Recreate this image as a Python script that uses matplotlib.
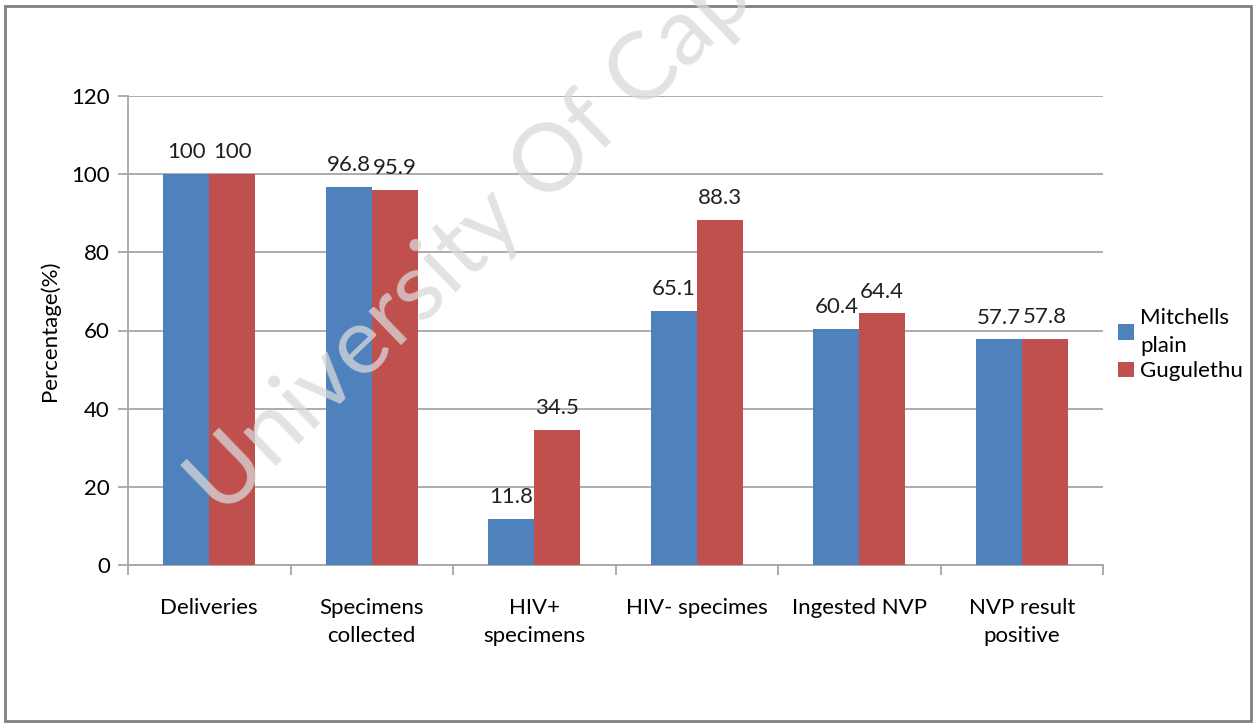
import numpy as np
import matplotlib.pyplot as plt
from matplotlib.patches import Rectangle

plt.rcParams['font.family'] = ['Lato', 'DejaVu Sans']

# Data
categories = ['Deliveries', 'Specimens\ncollected', 'HIV+\nspecimens',
              'HIV- specimes', 'Ingested NVP', 'NVP result\npositive']
mitchells = [100, 96.8, 11.8, 65.1, 60.4, 57.7]
gugulethu = [100, 95.9, 34.5, 88.3, 64.4, 57.8]
mitchells_labels = ['100', '96.8', '11.8', '65.1', '60.4', '57.7']
gugulethu_labels = ['100', '95.9', '34.5', '88.3', '64.4', '57.8']

blue = '#4F81BD'
red = '#C0504D'
fs = 16

fig = plt.figure(figsize=(12.56, 7.23), dpi=100)
ax = fig.add_axes([128 / 1256, 1 - 565 / 723, (1103 - 128) / 1256, (565 - 96) / 723])

# figure frame
fig.patches.append(Rectangle((5 / 1256, 2 / 723), 1246 / 1256, 715 / 723,
                             transform=fig.transFigure, fill=False,
                             edgecolor='#808080', linewidth=2))

x = np.arange(len(categories))
w = 0.283
ax.bar(x - w / 2, mitchells, w, color=blue, label='Mitchells\nplain', zorder=3)
ax.bar(x + w / 2, gugulethu, w, color=red, label='Gugulethu', zorder=3)

for xi, v, s in zip(x, mitchells, mitchells_labels):
    ax.text(xi - w / 2, v + 3, s, ha='center', va='bottom', fontsize=fs, color='#202020')
for xi, v, s in zip(x, gugulethu, gugulethu_labels):
    ax.text(xi + w / 2, v + 3, s, ha='center', va='bottom', fontsize=fs, color='#202020')

ax.set_xlim(-0.5, len(categories) - 0.5)
ax.set_ylim(0, 120)
ax.set_yticks(np.arange(0, 121, 20))
ax.yaxis.grid(True, color='#A6A6A6', linewidth=1.3, zorder=0)
ax.set_axisbelow(True)
ax.set_ylabel('Percentage(%)', fontsize=fs, labelpad=8)

ax.set_xticks(x)
ax.set_xticklabels(categories, fontsize=fs, linespacing=1.45)
ax.set_xticks(np.arange(-0.5, len(categories)), minor=True)
ax.tick_params(axis='x', which='major', length=0, pad=24)
ax.tick_params(axis='x', which='minor', length=7, color='#A6A6A6', width=1.3)
ax.tick_params(axis='y', length=7, color='#A6A6A6', width=1.3, labelsize=fs, pad=6)

for side in ['top', 'right']:
    ax.spines[side].set_visible(False)
ax.spines['left'].set_color('#A6A6A6')
ax.spines['bottom'].set_color('#A6A6A6')
ax.spines['left'].set_linewidth(1.3)
ax.spines['bottom'].set_linewidth(1.3)

leg = ax.legend(loc='center left', bbox_to_anchor=(0.995, 0.47), frameon=False,
                fontsize=fs, handlelength=0.7, handleheight=0.7, handletextpad=0.3,
                labelspacing=0.25)
for t in leg.get_texts():
    t.set_linespacing(1.5)

# watermark
fig.text(222 / 1256, 1 - 518 / 723, 'University Of Cape Town', rotation=44,
         rotation_mode='anchor', ha='left', va='baseline', fontsize=68,
         color='#D9D9D9', alpha=0.75, zorder=10)

fig.savefig('out.png', dpi=100)
